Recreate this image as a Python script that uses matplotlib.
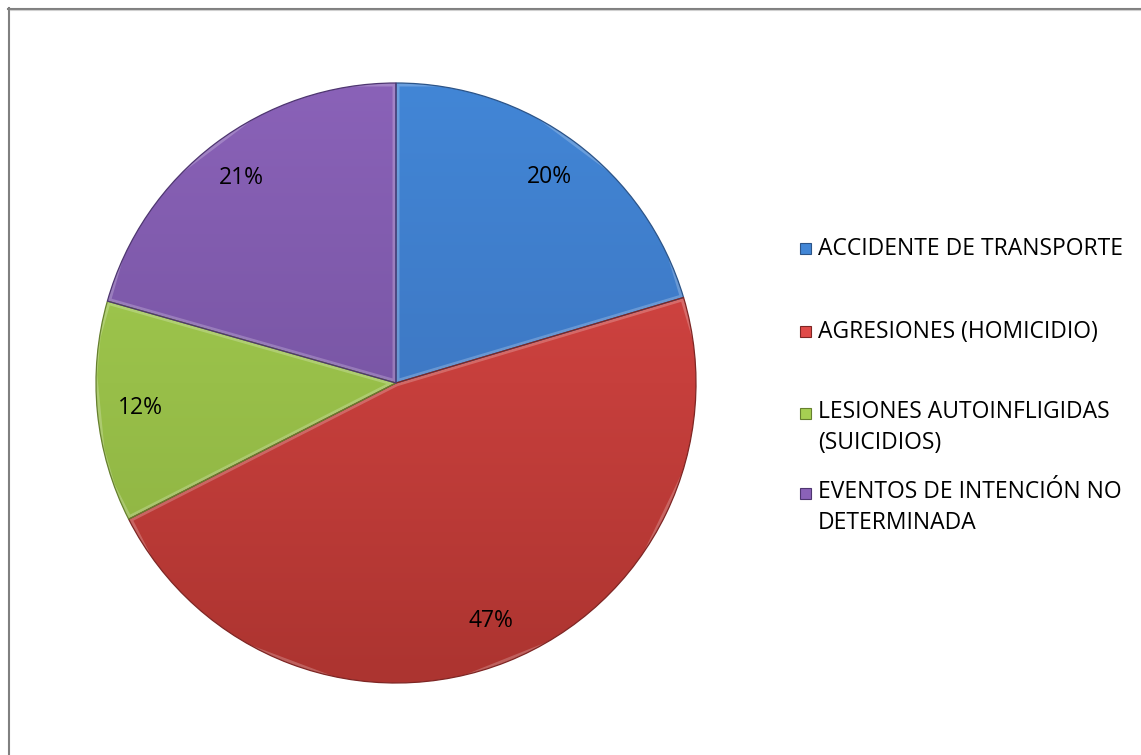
import numpy as np
import matplotlib.pyplot as plt
from matplotlib.colors import LinearSegmentedColormap
from matplotlib.patches import Rectangle
from matplotlib.lines import Line2D

categories = [
    "ACCIDENTE DE TRANSPORTE",
    "AGRESIONES (HOMICIDIO)",
    "LESIONES AUTOINFLIGIDAS\n(SUICIDIOS)",
    "EVENTOS DE INTENCIÓN NO\nDETERMINADA",
]
values = [20.4, 47.1, 11.9, 20.6]

top_colors = ["#4286D6", "#E04A48", "#A6D052", "#8A62B8"]
bottom_colors = ["#3A6CB4", "#AC3430", "#8AAE40", "#6A4C94"]
edge_dark = ["#2C5488", "#7E2624", "#66802E", "#4E3670"]

FONT = "Open Sans"
W, H = 1141, 755

fig = plt.figure(figsize=(W / 100, H / 100), dpi=100)
fig.patch.set_facecolor("white")

# pie area: centre (396, 383) px, radius 300 px
cx, cy, r = 396, 383, 300
ax = fig.add_axes([(cx - r) / W, (H - cy - r) / H, 2 * r / W, 2 * r / H])

wedges, texts, autotexts = ax.pie(
    values, startangle=90, counterclock=False, radius=1.0,
    autopct="%1.0f%%", pctdistance=0.855,
    textprops=dict(fontsize=16.5, family=FONT, color="black"),
    wedgeprops=dict(linewidth=0),
)

# vertical gradient fill + bevel-like rim for each slice
grad = np.linspace(0, 1, 256).reshape(-1, 1)
for i, w in enumerate(wedges):
    cmap = LinearSegmentedColormap.from_list(
        f"g{i}", [bottom_colors[i], top_colors[i]])
    im = ax.imshow(grad, extent=(-1, 1, -1, 1), origin="lower", cmap=cmap,
                   aspect="auto", zorder=1.2, interpolation="bilinear")
    im.set_clip_path(w)
    w.set_facecolor("none")
    w.set_zorder(1.4)
    w.set_edgecolor(edge_dark[i])
    w.set_linewidth(0.9)
    w.set_clip_on(False)
    # light inner highlight along the slice outline
    hl = plt.Polygon(w.get_path().vertices, closed=True, transform=w.get_transform(),
                     facecolor="none", edgecolor="white", linewidth=5,
                     alpha=0.22, zorder=1.3)
    ax.add_patch(hl)
    hl.set_clip_path(w)

for t in autotexts:
    t.set_zorder(3)

ax.set_xlim(-1, 1)
ax.set_ylim(-1, 1)
ax.set_aspect("equal")
ax.axis("off")

# legend
legend_y = [249, 332, 414, 494]
line_gap = 27
sq = 11
for i, lab in enumerate(categories):
    y0 = legend_y[i]
    nlines = lab.count("\n") + 1
    rect = Rectangle((800 / W, 1 - (y0 + sq / 2 - 1) / H), sq / W, sq / H,
                     transform=fig.transFigure, facecolor=top_colors[i],
                     edgecolor=edge_dark[i], linewidth=0.8)
    fig.add_artist(rect)
    fig.text(818 / W, 1 - (y0 + (nlines - 1) * line_gap / 2) / H, lab,
             fontsize=16.5, family=FONT, color="black", va="center", ha="left",
             linespacing=1.4)

# chart frame
fig.add_artist(Line2D([8.5 / W, 8.5 / W], [0, 1 - 8 / H], transform=fig.transFigure,
                      color="#808080", linewidth=1.5))
fig.add_artist(Line2D([8 / W, 1], [1 - 8.5 / H, 1 - 8.5 / H], transform=fig.transFigure,
                      color="#808080", linewidth=1.5))
fig.add_artist(Line2D([10 / W, 1], [1 - 10 / H, 1 - 10 / H], transform=fig.transFigure,
                      color="#D0D0D0", linewidth=0.8))

fig.savefig("out.png", dpi=100)
